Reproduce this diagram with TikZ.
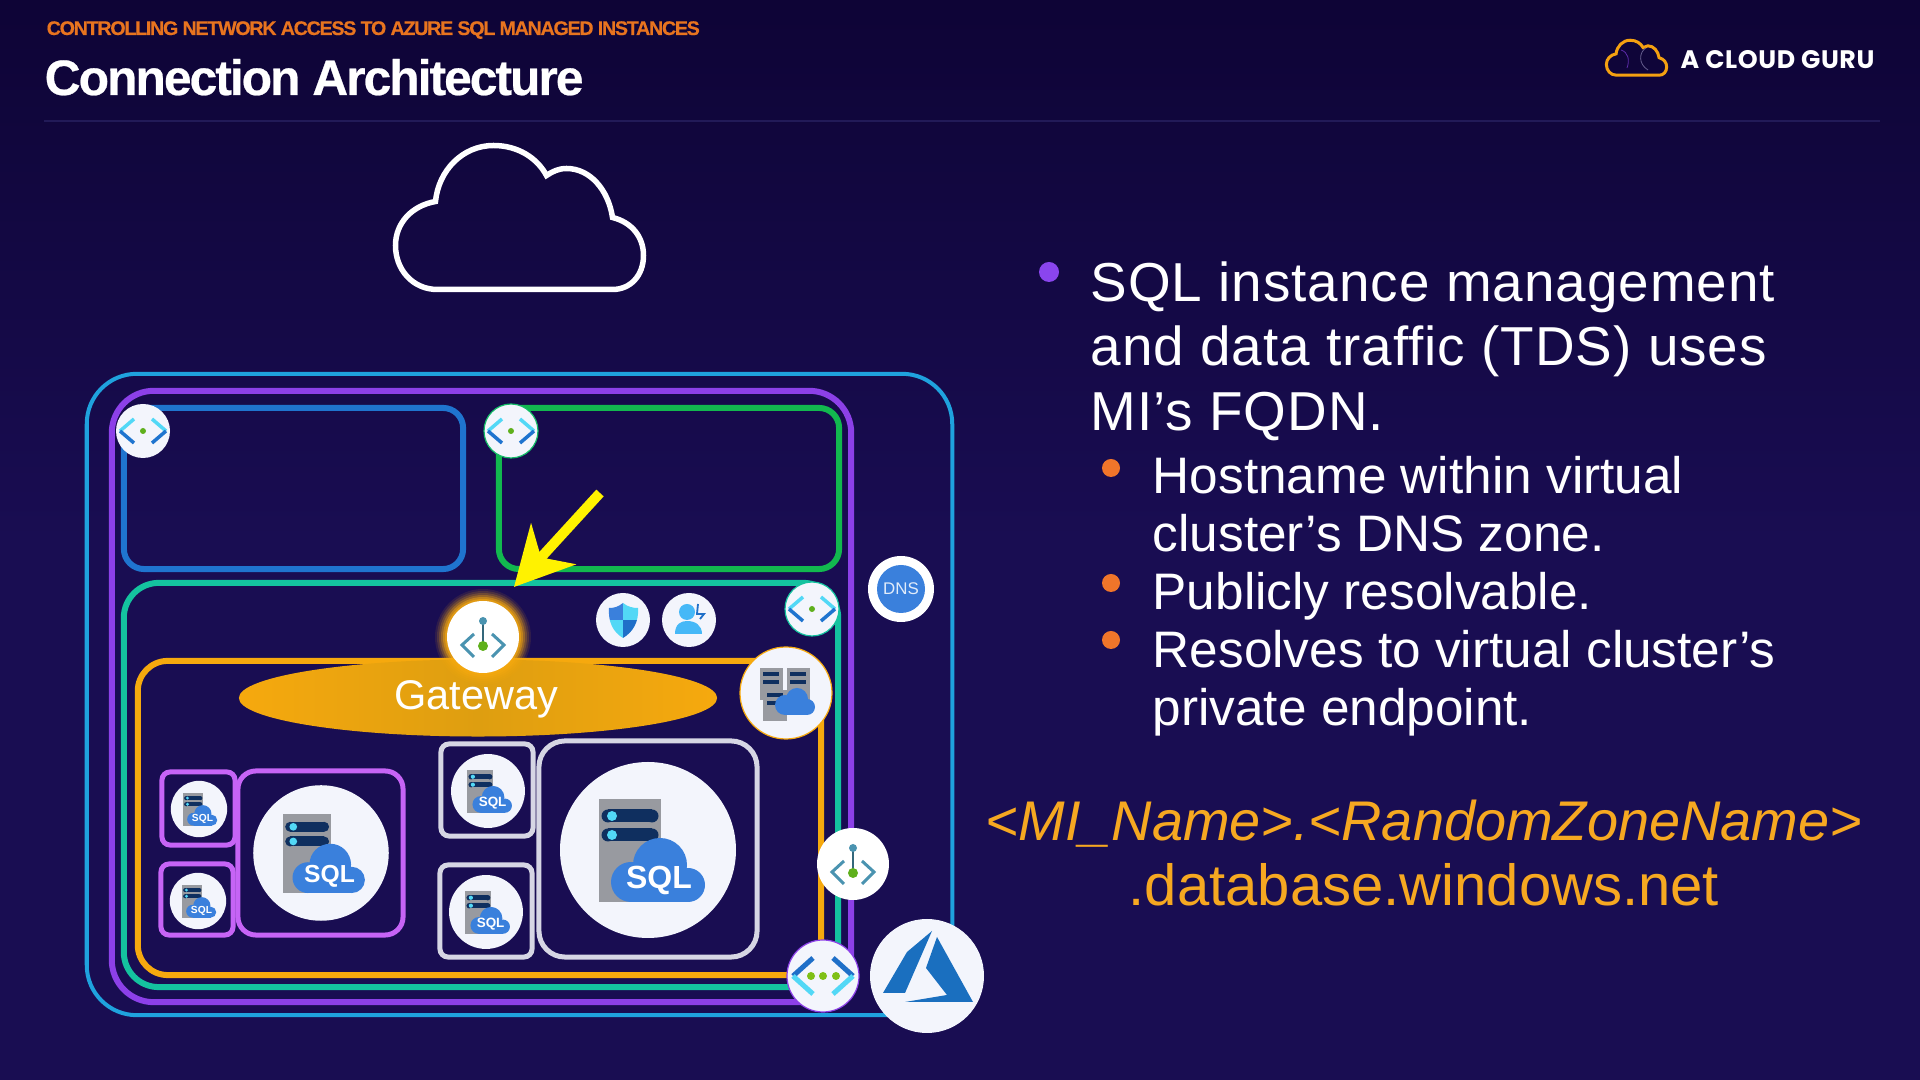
\documentclass[tikz,border=0pt]{standalone}
\usepackage{fontspec}
\setmainfont{Liberation Sans}
\newfontfamily\eyebrowfont[LetterSpace=-6.5,BoldFeatures={FakeBold=0.4}]{Liberation Sans}
\newfontfamily\headingfont[LetterSpace=-4,BoldFeatures={FakeBold=0.5}]{Liberation Sans}
\newfontfamily\bodyfont[LetterSpace=1.8]{Liberation Sans}
\newfontfamily\logofont[LetterSpace=2.3]{Poppins}
\usetikzlibrary{arrows.meta,shapes.geometric}
\definecolor{bgtop}{HTML}{0E0436}
\definecolor{bgmain}{HTML}{190D52}
\definecolor{ruleline}{HTML}{221A58}
\definecolor{eyebrow}{HTML}{E8741F}
\definecolor{azureline}{HTML}{1FA2DE}
\definecolor{purpleline}{HTML}{8C40E8}
\definecolor{blueline}{HTML}{1F74CF}
\definecolor{greenline}{HTML}{12B84F}
\definecolor{tealline}{HTML}{14C29F}
\definecolor{goldline}{HTML}{F6A90E}
\definecolor{golddark}{HTML}{DE9E10}
\definecolor{lilacline}{HTML}{C664F6}
\definecolor{greyline}{HTML}{D6D6E4}
\definecolor{disc}{HTML}{F3F5FC}
\definecolor{iconblue}{HTML}{3A80DC}
\definecolor{icondeep}{HTML}{1F6FC8}
\definecolor{iconcyan}{HTML}{52D8F6}
\definecolor{iconsea}{HTML}{4A93B0}
\definecolor{iconnavy}{HTML}{0F2F5F}
\definecolor{icongrey}{HTML}{989AA0}
\definecolor{icongreen}{HTML}{5FB01C}
\definecolor{azureblue}{HTML}{1A6FBF}
\definecolor{bulletpurple}{HTML}{8A45EE}
\definecolor{bulletorange}{HTML}{F0752A}
\definecolor{formula}{HTML}{F6A821}
\begin{document}
\begin{tikzpicture}[
  x=0.01cm,
  y=-0.01cm,
  >=Stealth,
  zone/.style 2 args={draw, rounded corners, minimum width=#1cm, minimum height=#2cm, inner sep=0pt},
  bodytext/.style={text=white, anchor=north west, align=left, inner sep=0pt},
  pics/cloudline/.style={code={
    \draw[pic actions] (-82,73) .. controls (-107,73) and (-124,53) .. (-124,29)
      .. controls (-124,6) and (-107,-11) .. (-84,-15)
      .. controls (-81,-46) and (-57,-71) .. (-26,-71)
      .. controls (-1,-71) and (18,-58) .. (27,-41)
      .. controls (33,-45) and (39,-48) .. (47,-48)
      .. controls (71,-48) and (89,-26) .. (93,1)
      .. controls (113,6) and (124,21) .. (124,39)
      .. controls (124,59) and (111,73) .. (93,73) -- cycle;
  }},
  pics/sqlicon/.style={code={
    \fill[disc] (0,0) circle[radius=88];
    \fill[icongrey] (-49,-51) rectangle (13,52);
    \foreach \by in {-34,-15} {
      \fill[iconnavy] (-40,\by-6.5) rectangle (4,\by+6.5);
      \fill[iconnavy] (-40,\by) circle[radius=6.5];
      \fill[iconnavy] (4,\by) circle[radius=6.5];
      \fill[iconcyan] (-36,\by) circle[radius=5];
    }
    \fill[iconblue] (-17,32) circle[radius=20];
    \fill[iconblue] (12,15) circle[radius=27];
    \fill[iconblue] (40,35) circle[radius=17];
    \fill[iconblue] (-17,22) rectangle (40,52);
    \node[text=white, font=\fontsize{9.1}{11}\selectfont\bfseries, transform shape, inner sep=0pt] (sqllabel) at (11,30) {SQL};
  }},
  pics/subnetmark/.style={code={
    \foreach \sx in {-1,1} {
      \draw[iconcyan, line width=0.035cm] (\sx*23,0) -- (\sx*9,-12);
      \draw[blueline, line width=0.035cm] (\sx*23,0) -- (\sx*9,12);
    }
    \fill[icongreen] (0,0) circle[radius=3];
  }},
  pics/gatewaymark/.style={code={
    \fill[white] (0,0) circle[radius=36];
    \foreach \sx in {-1,1} {
      \draw[iconsea, line width=0.03cm] (\sx*9,-3) -- (\sx*21,8) -- (\sx*9,20);
    }
    \draw[iconsea!70!black, line width=0.02cm] (0,-16) -- (0,9);
    \fill[iconsea] (0,-16) circle[radius=4];
    \fill[icongreen] (0,9) circle[radius=5];
  }}
]
  \shade[top color=bgtop, bottom color=bgmain, middle color=bgmain] (0,0) rectangle (1920,1080);
  \useasboundingbox (0,0) rectangle (1920,1080);

  \node[anchor=base west, inner sep=0pt, text=eyebrow, font=\fontsize{5.6}{6}\selectfont\eyebrowfont\bfseries] (kicker) at (46,35) {CONTROLLING NETWORK ACCESS TO AZURE SQL MANAGED INSTANCES};
  \node[anchor=base west, inner sep=0pt, text=white, font=\fontsize{14.15}{16}\selectfont\headingfont\bfseries] (heading) at (44,95) {Connection Architecture};
  \draw[ruleline, line width=0.02cm] (44,121) -- (1880,121);

  \pic[scale=0.243, draw=goldline!85!eyebrow, line width=0.03cm] at (1636.5,57.5) {cloudline};
  \draw[purpleline!60!bgmain, line width=0.008cm] (1621,50) .. controls (1628,52) and (1630,60) .. (1627,68);
  \draw[greyline!40!bgmain, line width=0.008cm] (1646,48) .. controls (1639,52) and (1638,64) .. (1648,70);
  \node[anchor=base west, inner sep=0pt, text=white, font=\fontsize{7.2}{8}\selectfont\logofont\bfseries] (brand) at (1680,69) {A CLOUD GURU};

  \pic[draw=white, line width=0.055cm] at (519.5,216.5) {cloudline};

  \node[zone={8.65}{6.41}, rounded corners=0.5cm, draw=azureline, line width=0.04cm] (azurezone) at (519.5,694.5) {};
  \node[zone={7.39}{6.11}, rounded corners=0.42cm, draw=purpleline, line width=0.06cm] (vnetzone) at (481.5,696.5) {};
  \node[zone={3.39}{1.61}, rounded corners=0.2cm, draw=blueline, line width=0.06cm] (bluezone) at (293.5,488.5) {};
  \node[zone={3.40}{1.61}, rounded corners=0.2cm, draw=greenline, line width=0.06cm] (greenzone) at (669,488.5) {};
  \node[zone={7.14}{4.04}, rounded corners=0.35cm, draw=tealline, line width=0.06cm] (tealzone) at (481,785) {};
  \node[zone={6.83}{3.14}, rounded corners=0.3cm, draw=goldline, line width=0.06cm] (goldzone) at (479.5,818) {};

  \node[ellipse, left color=goldline, right color=goldline, middle color=golddark, minimum width=4.78cm, minimum height=0.77cm, inner sep=0pt] (gatewaypool) at (478,698) {};
  \foreach \glow/\fade in {48/0.1,46/0.15,44/0.2,42/0.3,40/0.45,38/0.6} {
    \fill[goldline, opacity=\fade] (483,637) circle[radius=\glow];
  }
  \pic at (483,637) {gatewaymark};
  \node[text=white, font=\fontsize{11.8}{14}\selectfont, inner sep=0pt] (gatewaylabel) at (476,699.5) {Gateway};

  \fill[disc] (143,431) circle[radius=27];
  \pic at (143,431) {subnetmark};
  \filldraw[fill=disc, draw=greenline!70!tealline, line width=0.012cm] (511,431) circle[radius=27];
  \pic at (511,431) {subnetmark};
  \filldraw[fill=disc, draw=tealline, line width=0.012cm] (812,609) circle[radius=27];
  \pic at (812,609) {subnetmark};

  \fill[disc] (623,620) circle[radius=27];
  \begin{scope}
    \clip (623,603) .. controls (628,607) and (633,608) .. (638,608) .. controls (639,622) and (633,632) .. (623,638) .. controls (613,632) and (608,622) .. (609,608) .. controls (614,608) and (618,607) .. (623,603) -- cycle;
    \fill[iconblue] (605,600) rectangle (623,620);
    \fill[iconcyan] (623,600) rectangle (642,620);
    \fill[iconcyan] (605,620) rectangle (623,640);
    \fill[icondeep] (623,620) rectangle (642,640);
  \end{scope}

  \fill[disc] (689,620) circle[radius=27];
  \fill[iconcyan!85!blue] (687,612) circle[radius=8];
  \fill[iconcyan!85!blue] (675,634) .. controls (675,624) and (681,621) .. (687,621) .. controls (695,621) and (702,625) .. (702,634) -- cycle;
  \draw[icondeep, line width=0.018cm] (698,604) -- (697,614) -- (704,614) -- (700,619);

  \fill[white] (901,589) circle[radius=33];
  \fill[iconblue] (901,589) circle[radius=24];
  \node[text=white!85!iconblue, font=\fontsize{4.8}{6}\selectfont, inner sep=0pt] (dnslabel) at (901,589) {DNS};

  \filldraw[fill=disc, draw=goldline, line width=0.012cm] (786,693) circle[radius=46];
  \fill[icongrey] (760,668) rectangle (783,700);
  \fill[icongrey] (787,668) rectangle (810,700);
  \fill[icongrey] (763,690) rectangle (787,721);
  \foreach \bx/\by in {763/674,763/682,790/674,790/682,767/695,767/703} {
    \fill[iconnavy] (\bx,\by-2) rectangle (\bx+16,\by+2);
  }
  \fill[iconblue] (785,705) circle[radius=10];
  \fill[iconblue] (797,699) circle[radius=11];
  \fill[iconblue] (807,707) circle[radius=8];
  \fill[iconblue] (785,705) rectangle (807,715);

  \node[zone={0.73}{0.73}, rounded corners=0.08cm, draw=lilacline, line width=0.05cm] (replicaa) at (198.5,808.5) {};
  \node[zone={0.72}{0.71}, rounded corners=0.08cm, draw=lilacline, line width=0.05cm] (replicab) at (197,899.5) {};
  \node[zone={1.65}{1.64}, rounded corners=0.18cm, draw=lilacline, line width=0.05cm] (primarya) at (320.5,853) {};
  \node[zone={0.92}{0.92}, rounded corners=0.08cm, draw=greyline, line width=0.05cm] (replicac) at (487,790) {};
  \node[zone={0.92}{0.92}, rounded corners=0.08cm, draw=greyline, line width=0.05cm] (replicad) at (486,911) {};
  \node[zone={2.18}{2.16}, rounded corners=0.26cm, draw=greyline, line width=0.05cm] (primaryb) at (648,849) {};

  \pic[scale=0.32] at (199,809) {sqlicon};
  \pic[scale=0.32] at (198,901) {sqlicon};
  \pic[scale=0.77] at (321,853) {sqlicon};
  \pic[scale=0.42] at (488,791) {sqlicon};
  \pic[scale=0.42] at (486,912) {sqlicon};
  \pic at (648,850) {sqlicon};

  \pic at (853,864) {gatewaymark};

  \filldraw[fill=disc, draw=purpleline, line width=0.012cm] (823,976) circle[radius=36];
  \foreach \sx in {-1,1} {
    \draw[icondeep, line width=0.05cm] (823+\sx*30,976) -- (823+\sx*10,958);
    \draw[iconcyan, line width=0.05cm] (823+\sx*30,976) -- (823+\sx*10,994);
  }
  \foreach \dx in {-12,0,13} {
    \fill[icongreen!80!yellow] (823+\dx,976) circle[radius=4];
  }

  \fill[disc] (927,976) circle[radius=57];
  \fill[azureblue] (932,931) -- (907,952) -- (883,993) -- (905,993) -- cycle;
  \fill[azureblue] (937,937) -- (973,1002) -- (905,1002) -- (947,995) -- (926,968) -- cycle;

  \coordinate (arrowtail) at (600,493);
  \coordinate (arrowtip) at (514,587);
  \draw[->, >={Stealth[length=0.58cm, width=0.6cm, inset=0.18cm]}, yellow, line width=0.1cm] (arrowtail) -- (arrowtip);

  \fill[bulletpurple] (1049,272) circle[radius=10];
  \node[bodytext, font=\fontsize{15.6}{18.35}\selectfont\bodyfont] (mainpoint) at (1090,261) {SQL instance management\\and data traffic (TDS) uses\\MI’s FQDN.};

  \foreach \by in {468,583,640} {
    \fill[bulletorange] (1111,\by) circle[radius=9];
  }
  \node[bodytext, font=\fontsize{14.6}{16.5}\selectfont] (subpoints) at (1152,456) {Hostname within virtual\\cluster’s DNS zone.\\Publicly resolvable.\\Resolves to virtual cluster’s\\private endpoint.};

  \node[text=formula, align=center, inner sep=0pt, anchor=north, font=\fontsize{16.5}{18.5}\selectfont] (fqdn) at (1424,799) {{\fontsize{15.9}{18.5}\selectfont\itshape <MI\_Name>.<RandomZoneName>}\\.database.windows.net};
\end{tikzpicture}
\end{document}
